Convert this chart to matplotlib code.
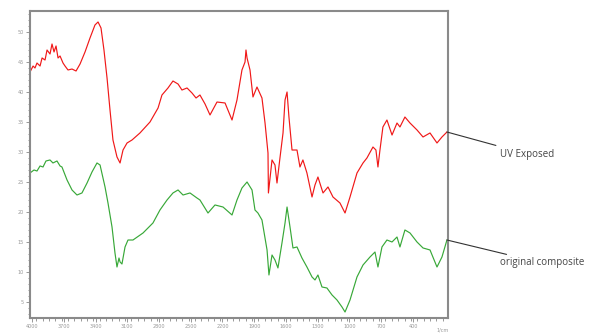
import matplotlib
matplotlib.use("Agg")
import matplotlib.pyplot as plt
from matplotlib.ticker import MultipleLocator

# FTIR spectra: wavenumber (cm-1) vs transmittance-like intensity
uv_wn = [4019, 3990, 3972, 3953, 3924, 3905, 3877, 3858, 3830, 3811, 3792, 3773,
         3754, 3735, 3707, 3688, 3660, 3622, 3584, 3546, 3499, 3452, 3405, 3376,
         3348, 3320, 3291, 3263, 3235, 3197, 3168, 3140, 3102, 3055, 2980, 2885,
         2809, 2772, 2715, 2668, 2620, 2583, 2535, 2488, 2450, 2413, 2365, 2318,
         2252, 2176, 2110, 2063, 2016, 1987, 1978, 1968, 1940, 1912, 1874, 1827,
         1798, 1770, 1766, 1732, 1704, 1685, 1657, 1628, 1609, 1590, 1572, 1543,
         1496, 1468, 1440, 1402, 1354, 1326, 1298, 1250, 1203, 1156, 1090, 1042,
         995, 929, 872, 835, 778, 750, 731, 712, 684, 646, 598, 551, 523, 476,
         428, 362, 305, 239, 173, 126, 79]
uv_t = [43.33, 44.33, 44.0, 44.83, 44.33, 45.67, 45.33, 47.0, 46.33, 48.0, 46.67, 47.67,
        45.67, 46.0, 44.83, 44.33, 43.67, 43.83, 43.5, 44.67, 46.67, 49.0, 51.17, 51.67,
        50.67, 47.0, 42.33, 37.0, 32.0, 29.17, 28.17, 30.33, 31.5, 32.0, 33.17, 35.0,
        37.33, 39.5, 40.67, 41.83, 41.33, 40.33, 40.67, 39.83, 39.0, 39.5, 38.0, 36.17,
        38.33, 38.17, 35.33, 38.67, 43.67, 45.0, 47.0, 45.67, 43.67, 39.17, 40.83, 39.0,
        34.83, 29.83, 23.17, 28.67, 27.83, 24.83, 29.0, 33.17, 38.67, 40.0, 35.83, 30.33,
        30.33, 27.5, 28.67, 26.5, 22.5, 24.5, 25.83, 23.17, 24.17, 22.5, 21.5, 19.83,
        22.5, 26.5, 28.17, 29.0, 30.83, 30.33, 27.5, 30.33, 34.17, 35.33, 32.83, 34.83, 34.17, 35.83,
        34.83, 33.67, 32.5, 33.17, 31.5, 32.5, 33.33]

orig_wn = [4019, 3981, 3953, 3924, 3896, 3868, 3830, 3802, 3764, 3735, 3717, 3669,
           3622, 3575, 3528, 3480, 3433, 3386, 3357, 3310, 3282, 3244, 3216, 3197,
           3178, 3168, 3150, 3121, 3093, 3046, 2951, 2857, 2791, 2724, 2668, 2620,
           2573, 2507, 2441, 2413, 2337, 2271, 2195, 2110, 2063, 2016, 1968, 1921,
           1893, 1865, 1827, 1779, 1761, 1732, 1704, 1676, 1638, 1609, 1590, 1562,
           1534, 1496, 1449, 1402, 1354, 1326, 1298, 1260, 1213, 1165, 1118, 1071,
           1042, 995, 929, 872, 806, 759, 731, 693, 646, 598, 551, 523, 476, 428,
           362, 305, 239, 173, 126, 79]
orig_t = [26.5, 27.0, 26.83, 27.67, 27.5, 28.5, 28.67, 28.17, 28.5, 27.67, 27.5, 25.33,
          23.67, 22.83, 23.17, 24.83, 26.67, 28.17, 27.83, 24.17, 21.5, 17.5, 13.17, 10.83,
          12.33, 11.67, 11.33, 14.17, 15.33, 15.33, 16.5, 18.17, 20.33, 22.0, 23.17, 23.67,
          22.83, 23.17, 22.33, 22.0, 19.83, 21.17, 20.83, 19.5, 22.0, 24.0, 25.0, 23.67,
          20.33, 19.83, 18.67, 13.67, 9.5, 12.83, 12.0, 10.67, 14.83, 18.17, 20.83, 17.5,
          14.0, 14.17, 12.33, 10.83, 9.17, 8.67, 9.5, 7.5, 7.33, 6.17, 5.33, 4.17,
          3.33, 5.33, 9.17, 11.17, 12.5, 13.33, 10.83, 14.17, 15.33, 15.0, 15.83, 14.17, 17.0, 16.5,
          15.0, 14.0, 13.67, 10.83, 12.5, 15.33]

x_ticks = [4000, 3700, 3400, 3100, 2800, 2500, 2200, 1900, 1600, 1300, 1000, 700, 400]
y_ticks = [5, 10, 15, 20, 25, 30, 35, 40, 45, 50]

fig = plt.figure(figsize=(5.93, 3.34), dpi=100)
ax = fig.add_axes([30 / 593, 16 / 334, 418 / 593, 307 / 334])

ax.plot(uv_wn, uv_t, color="#f01818", lw=0.85)
ax.plot(orig_wn, orig_t, color="#38a838", lw=0.85)

ax.set_xlim(4019, 69)
ax.set_ylim(2.33, 53.5)
ax.set_xticks(x_ticks)
ax.set_yticks(y_ticks)
ax.xaxis.set_minor_locator(MultipleLocator(60))
ax.yaxis.set_minor_locator(MultipleLocator(1))
ax.tick_params(which="both", direction="out", colors="#888888", labelsize=3.5,
               labelcolor="#999999", width=0.6, pad=1.5)
ax.tick_params(which="major", length=3)
ax.tick_params(which="minor", length=1.8)

for side in ax.spines.values():
    side.set_color("#8a8a8a")
    side.set_linewidth(1.5)

ax.annotate("UV Exposed", xy=(uv_wn[-1], uv_t[-1]), xycoords="data",
            xytext=(500 / 593, (334 - 154) / 334), textcoords="figure fraction",
            va="center", ha="left", fontsize=7, color="#444444",
            family="Open Sans",
            arrowprops=dict(arrowstyle="-", color="#333333", lw=0.8,
                            shrinkA=1, shrinkB=0))
ax.annotate("original composite", xy=(orig_wn[-1], orig_t[-1]), xycoords="data",
            xytext=(500 / 593, (334 - 263) / 334), textcoords="figure fraction",
            va="center", ha="left", fontsize=7, color="#444444",
            family="Open Sans",
            arrowprops=dict(arrowstyle="-", color="#333333", lw=0.8,
                            shrinkA=1, shrinkB=0))

fig.text(443 / 593, 2 / 334, "1/cm", fontsize=3.5, color="#999999", ha="center", va="bottom")

fig.savefig("out.png", dpi=100, facecolor="white")
